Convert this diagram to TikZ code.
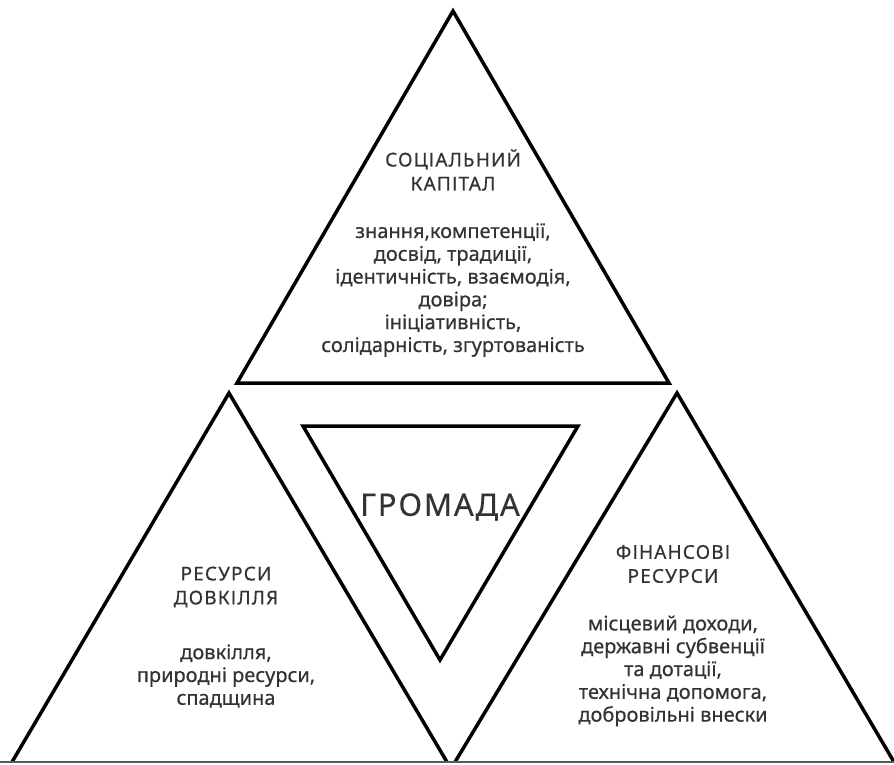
\documentclass[tikz,border=0pt]{standalone}
\usepackage{fontspec}
\setmainfont[FakeBold=0.5]{Noto Sans}
\newfontfamily\headfont[LetterSpace=6,FakeBold=0.5]{Noto Sans}
\definecolor{txt}{HTML}{333333}
\begin{document}
\begin{tikzpicture}[x=1pt,y=-1pt,
  tri/.style={draw=black,line width=3.5pt,line join=miter},
  headtxt/.style={text=txt,align=center,font=\headfont\fontsize{19}{24}\selectfont,inner sep=0},
  bodytxt/.style={text=txt,align=center,font=\fontsize{20}{22.8}\selectfont,inner sep=0},
  bigtxt/.style={text=txt,font=\headfont\fontsize{31}{32}\selectfont,inner sep=0}]
\useasboundingbox[fill=white] (0,0) rectangle (894,764);
% top triangle
\coordinate (tA) at (453,11);
\coordinate (tL) at (237,383);
\coordinate (tR) at (669,383);
\draw[tri] (tA) -- (tL) -- (tR) -- cycle;
% left triangle
\coordinate (lA) at (229,393);
\coordinate (lL) at (12,762);
\coordinate (lR) at (447,762);
\draw[tri] (lL) -- (lA) -- (lR);
% right triangle
\coordinate (rA) at (677,393);
\coordinate (rL) at (455,762);
\coordinate (rR) at (894,762);
\draw[tri] (rL) -- (rA) -- (rR);
% bottom base line
\draw[draw=black!65,line width=1.6pt] (0,762) -- (894,762);
% middle inverted triangle
\coordinate (mL) at (303,426);
\coordinate (mR) at (578,426);
\coordinate (mB) at (440,660);
\draw[tri] (mL) -- (mR) -- (mB) -- cycle;
% texts
\node[headtxt] (th) at (453,170) {СОЦІАЛЬНИЙ\\КАПІТАЛ};
\node[bodytxt] (tb) at (453,290) {знання,компетенції,\\досвід, традиції,\\ідентичність, взаємодія,\\довіра;\\ініціативність,\\солідарність, згуртованість};
\node[bigtxt] (mc) at (440,507) {ГРОМАДА};
\node[headtxt] (lh) at (226,587) {РЕСУРСИ\\ДОВКІЛЛЯ};
\node[bodytxt] (lb) at (226,676) {довкілля,\\природні ресурси,\\спадщина};
\node[headtxt] (rh) at (673,564) {ФІНАНСОВІ\\РЕСУРСИ};
\node[bodytxt] (rb) at (673,671) {місцевий доходи,\\державні субвенції\\та дотації,\\технічна допомога,\\добровільні внески};
\end{tikzpicture}
\end{document}
